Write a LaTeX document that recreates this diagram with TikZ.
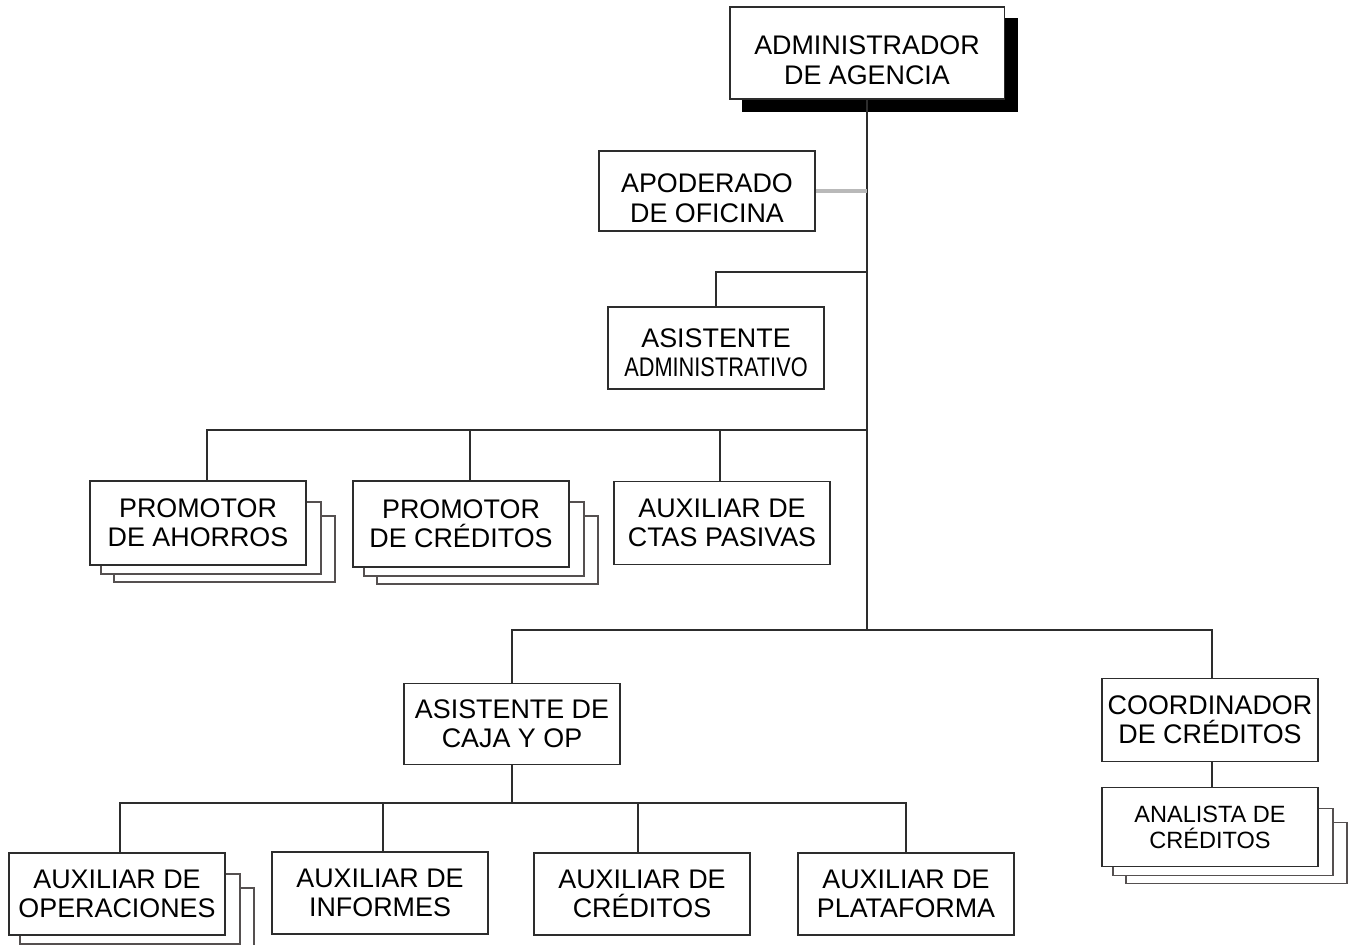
\documentclass[tikz,border=0pt]{standalone}
\usepackage{fontspec}
\usepackage{graphicx}
\usepackage{tikz}
\usetikzlibrary{backgrounds}
\setmainfont{Liberation Sans}
\definecolor{borde}{RGB}{45, 45, 45}
\definecolor{capa}{RGB}{85, 80, 80}

\tikzset{
	cargo/.style={draw=borde, line width=1.1pt, fill=white, align=center, inner sep=0pt, minimum width=4.32cm, minimum height=1.64cm, font=\fontsize{15.3}{16.6}\selectfont},
	linea/.style={borde, line width=1.1pt},
	pila/.style={draw=capa, line width=0.9pt, fill=white}
}
\newcommand{\bajo}[1]{\rule{0pt}{#1}}

\begin{document}
\begin{tikzpicture}[x=0.02cm, y=-0.02cm]
	\useasboundingbox (0,0) rectangle (1354,945);
	\node[cargo, minimum width=5.5cm, minimum height=1.84cm] (admin) at (867,53) {\bajo{19pt}ADMINISTRADOR\\DE AGENCIA};
	\node[cargo, minimum height=1.6cm] (apod) at (707,191) {\bajo{19pt}APODERADO\\DE OFICINA};
	\node[cargo] (asis) at (716,348) {\bajo{16pt}ASISTENTE\\\scalebox{0.81}[1]{ADMINISTRATIVO}};
	\node[cargo, minimum height=1.68cm] (promah) at (198,523) {PROMOTOR\\DE AHORROS};
	\node[cargo, minimum height=1.72cm] (promcr) at (461,524) {PROMOTOR\\DE CRÉDITOS};
	\node[cargo, minimum height=1.66cm] (ctas) at (722,523) {AUXILIAR DE\\CTAS PASIVAS};
	\node[cargo, minimum height=1.62cm] (caja) at (512,724) {ASISTENTE DE\\CAJA Y OP};
	\node[cargo, minimum height=1.66cm] (coord) at (1210,720) {COORDINADOR\\DE CRÉDITOS};
	\node[cargo, minimum height=1.58cm, font=\fontsize{13.4}{14.7}\selectfont] (anal) at (1210,827) {ANALISTA DE\\CRÉDITOS};
	\node[cargo] (auxop) at (117,894) {AUXILIAR DE\\OPERACIONES};
	\node[cargo] (auxinf) at (380,893) {AUXILIAR DE\\INFORMES};
	\node[cargo] (auxcr) at (642,894) {AUXILIAR DE\\CRÉDITOS};
	\node[cargo] (auxpl) at (906,894) {AUXILIAR DE\\PLATAFORMA};
	
	\coordinate (r1) at (867,272);
	\coordinate (bus1) at (867,430);
	\coordinate (bus2) at (867,630);
	\coordinate (bus3) at (512,803);
	
	% sombra y pilas
	\begin{scope}[on background layer]
		\fill[black] ([shift={(13,12)}]admin.south west) rectangle ([shift={(13,12)}]admin.north east);
		\foreach \n in {promah,promcr,anal,auxop}{
			\draw[pila] ([shift={(25,16)}]\n.south west) rectangle ([shift={(28,36)}]\n.north east);
			\draw[pila] ([shift={(12,8)}]\n.south west) rectangle ([shift={(14,22)}]\n.north east);
		}
	\end{scope}
	
	% Administrador
	\draw[linea](admin.south) -- (bus2);
	\draw[gray!55, line width=1.8pt](apod.east) -- (apod.east -| admin.south);
	\draw[linea](asis.north) |- (r1);
	% Promotores
	\draw[linea]([xshift=0.18cm]promah.north) |- (bus1);
	\draw[linea]([xshift=0.18cm]promcr.north) -- ([xshift=0.18cm]promcr.north |- bus1);
	\draw[linea]([xshift=-0.04cm]ctas.north) -- ([xshift=-0.04cm]ctas.north |- bus1);
	% Caja y creditos
	\draw[linea](caja.north) |- (bus2);
	\draw[linea]([xshift=0.04cm]coord.north) |- (bus2);
	\draw[linea]([xshift=0.04cm]coord.south) -- ([xshift=0.04cm]anal.north);
	\draw[linea](caja.south) -- (bus3);
	% Auxiliares
	\draw[linea]([xshift=0.06cm]auxop.north) |- (auxpl.north |- bus3) -- (auxpl.north);
	\draw[linea]([xshift=0.06cm]auxinf.north) -- ([xshift=0.06cm]auxinf.north |- bus3);
	\draw[linea]([xshift=-0.08cm]auxcr.north) -- ([xshift=-0.08cm]auxcr.north |- bus3);
\end{tikzpicture}
\end{document}
